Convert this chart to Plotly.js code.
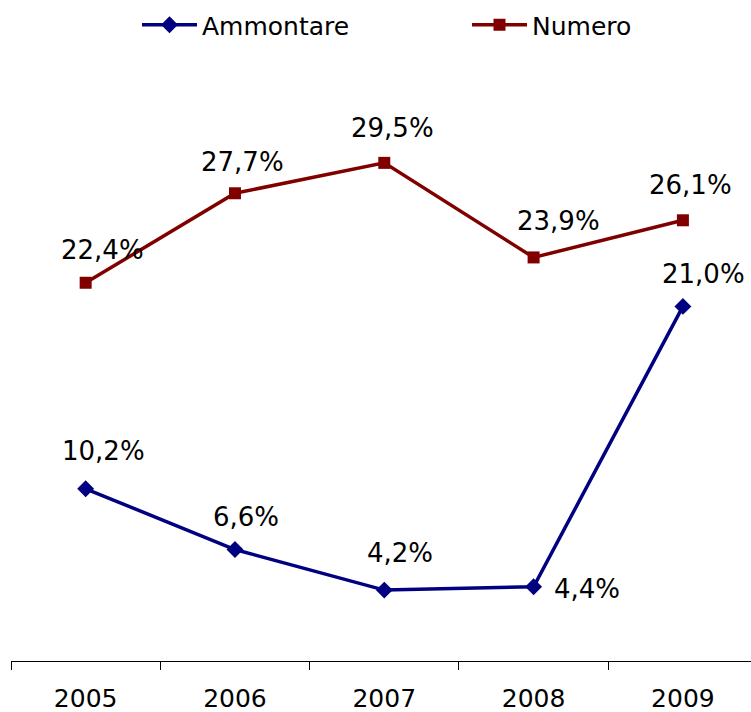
<!DOCTYPE html>
<html>
<head>
<meta charset="utf-8">
<script src="https://cdn.plot.ly/plotly-3.0.1.min.js"></script>
<style>html,body{margin:0;padding:0;background:#fff}#chart{width:751px;height:712px}</style>
</head>
<body>
<div id="chart"></div>
<script>
const years = ['2005', '2006', '2007', '2008', '2009'];
const ammontare = [10.2, 6.6, 4.2, 4.4, 21.0];
const numero = [22.4, 27.7, 29.5, 23.9, 26.1];
const seriesNames = ['Ammontare', 'Numero'];

// label offsets in pixels (style only)
const ammShift = [[18, 38], [11, 33], [16, 37], [53, -2], [21, 32]];
const numShift = [[17, 33], [8, 31], [8, 35], [25, 36], [8, 35]];

function fmt(v) { return v.toFixed(1).replace('.', ',') + '%'; }

function mkFont(sz) { return {family: 'DejaVu Sans, Verdana, sans-serif', size: sz, color: '#000'}; }

const traces = [
  {
    x: years, y: ammontare, name: seriesNames[0], type: 'scatter', mode: 'lines+markers',
    line: {color: '#000080', width: 3.5},
    marker: {symbol: 'diamond', size: 13, color: '#000080'},
    hoverinfo: 'skip', legend: 'legend'
  },
  {
    x: years, y: numero, name: seriesNames[1], type: 'scatter', mode: 'lines+markers',
    line: {color: '#800000', width: 3.5},
    marker: {symbol: 'square', size: 12, color: '#800000'},
    hoverinfo: 'skip', legend: 'legend2'
  }
];

const annotations = [];
years.forEach((yr, i) => {
  annotations.push({x: i, y: ammontare[i], xref: 'x', yref: 'y', text: fmt(ammontare[i]),
    showarrow: false, xshift: ammShift[i][0], yshift: ammShift[i][1], font: mkFont(26)});
  annotations.push({x: i, y: numero[i], xref: 'x', yref: 'y', text: fmt(numero[i]),
    showarrow: false, xshift: numShift[i][0], yshift: numShift[i][1], font: mkFont(26)});
});

const legendBase = {orientation: 'h', xanchor: 'left', y: 1 - 25 / 712, yanchor: 'middle',
  yref: 'container', font: mkFont(25), itemwidth: 55, bgcolor: 'rgba(0,0,0,0)'};

const layout = {
  width: 751, height: 712,
  margin: {l: 11, r: 0, t: 70, b: 51},
  paper_bgcolor: '#fff', plot_bgcolor: '#fff',
  font: mkFont(25),
  showlegend: true,
  legend: Object.assign({}, legendBase, {x: (137 - 11) / 740}),
  legend2: Object.assign({}, legendBase, {x: (467 - 11) / 740}),
  xaxis: {type: 'category', range: [-0.5, 4.456], tickson: 'boundaries', ticks: 'outside',
    ticklen: 8, tickcolor: '#000', showline: true, linecolor: '#000', linewidth: 1.3,
    showgrid: false, zeroline: false, tickfont: mkFont(25), ticklabelstandoff: 15, fixedrange: true},
  yaxis: {range: [0, 35], visible: false, showgrid: false, zeroline: false, fixedrange: true},
  annotations: annotations
};

Plotly.newPlot('chart', traces, layout, {displayModeBar: false});
</script>
</body>
</html>
